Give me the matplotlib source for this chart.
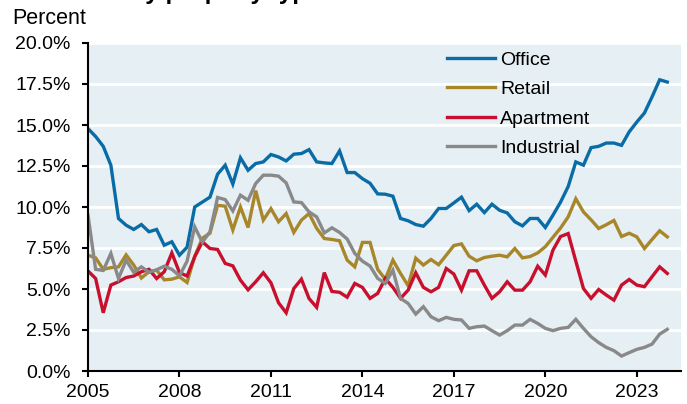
import numpy as np
import matplotlib.pyplot as plt

# quarterly rates, 2005Q1 .. 2024Q1 (percent)
office = [14.78, 14.3, 13.7, 12.55, 9.3, 8.89, 8.63, 8.93, 8.49, 8.63,
          7.67, 7.88, 7.06, 7.55, 10.0, 10.3, 10.6, 12.0, 12.55, 11.4,
          13.0, 12.24, 12.65, 12.75, 13.2, 13.05, 12.81, 13.22, 13.26, 13.5,
          12.75, 12.69, 12.65, 13.42, 12.1, 12.1, 11.73, 11.45, 10.8, 10.78,
          10.66, 9.3, 9.16, 8.93, 8.83, 9.3, 9.91, 9.91, 10.25, 10.6,
          9.78, 10.17, 9.66, 10.17, 9.8, 9.64, 9.1, 8.85, 9.3, 9.3,
          8.75, 9.5, 10.3, 11.25, 12.75, 12.55, 13.62, 13.7, 13.9, 13.9,
          13.76, 14.58, 15.18, 15.73, 16.71, 17.76, 17.62]
retail = [7.06, 6.9, 6.2, 6.3, 6.35, 7.08, 6.46, 5.67, 6.05, 6.15,
          5.56, 5.6, 5.74, 5.4, 7.0, 8.1, 8.4, 10.1, 10.05, 8.6,
          10.0, 8.75, 11.0, 9.2, 9.9, 9.1, 9.6, 8.45, 9.2, 9.6,
          8.7, 8.08, 8.02, 7.94, 6.76, 6.35, 7.84, 7.84, 6.2, 5.6,
          6.76, 5.95, 5.2, 6.88, 6.46, 6.8, 6.48, 7.06, 7.65, 7.75,
          7.0, 6.72, 6.92, 7.0, 7.06, 6.96, 7.47, 6.9, 6.98, 7.2,
          7.58, 8.15, 8.72, 9.4, 10.5, 9.7, 9.22, 8.69, 8.92, 9.18,
          8.2, 8.4, 8.18, 7.47, 8.02, 8.55, 8.18]
apartment = [6.1, 5.64, 3.55, 5.24, 5.44, 5.7, 5.79, 6.05, 6.2, 5.64,
             6.05, 7.2, 6.0, 5.79, 6.96, 7.88, 7.47, 7.41, 6.56, 6.41,
             5.54, 4.95, 5.44, 5.99, 5.38, 4.16, 3.55, 5.03, 5.6, 4.42,
             3.88, 6.0, 4.85, 4.8, 4.5, 5.34, 5.1, 4.43, 4.73, 5.64,
             5.1, 4.43, 4.93, 5.99, 5.1, 4.83, 5.1, 6.25, 5.91, 4.93,
             6.11, 6.11, 5.24, 4.43, 4.83, 5.44, 4.93, 4.93, 5.44, 6.39,
             5.85, 7.37, 8.2, 8.38, 6.7, 5.03, 4.43, 4.97, 4.63, 4.32,
             5.24, 5.58, 5.24, 5.14, 5.75, 6.35, 5.95]
industrial = [9.5, 6.2, 6.13, 7.17, 5.64, 6.76, 6.02, 6.35, 6.02, 6.17,
              6.39, 6.2, 5.8, 6.7, 8.79, 7.85, 8.49, 10.58, 10.45, 9.76,
              10.72, 10.41, 11.43, 11.94, 11.94, 11.88, 11.47, 10.31, 10.27, 9.7,
              9.4, 8.42, 8.73, 8.45, 8.05, 7.17, 6.7, 6.4, 5.65, 5.34,
              6.15, 4.43, 4.12, 3.47, 3.92, 3.31, 3.07, 3.27, 3.15, 3.11,
              2.6, 2.7, 2.74, 2.46, 2.19, 2.46, 2.8, 2.8, 3.15, 2.9,
              2.6, 2.46, 2.6, 2.66, 3.15, 2.6, 2.09, 1.73, 1.44, 1.24,
              0.91, 1.12, 1.32, 1.44, 1.64, 2.25, 2.54]

start_year = 2005
labels = ['Office', 'Retail', 'Apartment', 'Industrial']
colors = ['#0a6ca6', '#a8872a', '#c8102e', '#898989']
xtick_years = [2005, 2008, 2011, 2014, 2017, 2020, 2023]
yticks = [0, 2.5, 5, 7.5, 10, 12.5, 15, 17.5, 20]

plt.rcParams['font.family'] = ['Liberation Sans', 'DejaVu Sans']

W, H = 687, 404
fig = plt.figure(figsize=(W/100, H/100), dpi=100)
ax = fig.add_axes([88/W, 1 - 371/H, 593/W, 328/H])
ax.set_facecolor('#e6eff3')

t = start_year + np.arange(len(office)) / 4
for series, lab, col in zip([office, retail, apartment, industrial], labels, colors):
    ax.plot(t, series, color=col, lw=2.4, label=lab, solid_joinstyle='miter')

ax.set_xlim(2005, 2024.45)
ax.set_ylim(0, 20)
ax.set_xticks(xtick_years)
ax.set_yticks(yticks)
ax.set_yticklabels([f'{v:.1f}%' for v in yticks])
ax.yaxis.grid(True, color='white', lw=2)
ax.set_axisbelow(True)

for s in ['top', 'right']:
    ax.spines[s].set_visible(False)
for s in ['left', 'bottom']:
    ax.spines[s].set_linewidth(1.5)
ax.tick_params(axis='both', direction='out', length=4.5, width=1.5, labelsize=14)
ax.tick_params(axis='y', pad=8)
ax.tick_params(axis='x', pad=5)

ax.legend(loc='upper left', bbox_to_anchor=(0.605, 0.975), frameon=False,
          fontsize=14, handlelength=2.5, handletextpad=0.25, labelspacing=0.61,
          borderpad=0, borderaxespad=0)

fig.text(12/W, 1 - 18/H, 'Percent', fontsize=15.5, va='center', ha='left')
# title is cut off by the top edge in the source image
fig.text(6/W, 1 + 1/H, 'Vacancies by property type', fontsize=17.5,
         fontweight='bold', va='baseline', ha='left')

fig.savefig('out.png', dpi=100)
